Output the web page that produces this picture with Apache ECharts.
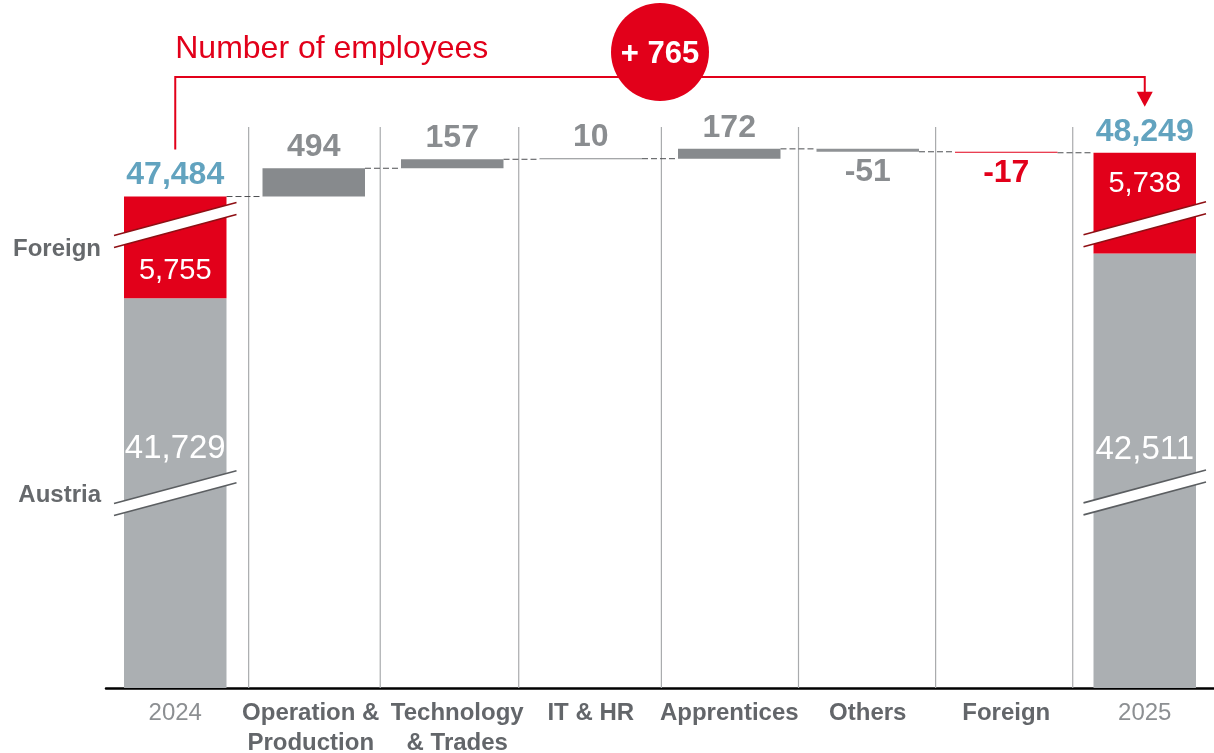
<!DOCTYPE html>
<html>
<head>
<meta charset="utf-8">
<script src="https://cdn.jsdelivr.net/npm/echarts@6/dist/echarts.min.js"></script>
<style>
html, body { margin: 0; padding: 0; background: #fff; }
#chart { width: 1214px; height: 753px; }
</style>
</head>
<body>
<div id="chart"></div>
<script>
// chart data
const categories = ['2024', 'Operation &\nProduction', 'Technology\n& Trades', 'IT & HR', 'Apprentices', 'Others', 'Foreign', '2025']
const austria = [41729, null, null, null, null, null, null, 42511]
const foreign = [5755, null, null, null, null, null, null, 5738]
const changes = [null, 494, 157, 10, 172, -51, -17, null]
const totalChange = 765
const rowLabels = ['Foreign', 'Austria']
// divider lines between the columns (in category units)
const separators = [1.03, 1.98, 2.98, 4.01, 5.0, 5.99, 6.98]

const RED = '#e2001a'
const FONT = "'Liberation Sans', Arial, sans-serif"
const fmt = v => v.toLocaleString('en-US')

// where the break slashes and inside labels sit, as share of each segment
const decor = [
  { fSlash: 0.28, aSlash: 0.50, fLabel: 0.72, aLabel: 0.385 },
  { fSlash: 0.71, aSlash: 0.55, fLabel: 0.30, aLabel: 0.45 }
]

// waterfall helpers
const totals = austria.map((a, i) => (a == null ? null : a + foreign[i]))
const base = categories.map(() => null)
const delta = categories.map(() => null)
const levels = [totals[0]]
let running = totals[0]
for (let i = 1; i < categories.length - 1; i++) {
  const next = running + changes[i]
  base[i] = Math.min(running, next)
  delta[i] = Math.abs(changes[i])
  running = next
  levels.push(running)
}

const labelStyle = { fontFamily: FONT, fontSize: 24, fontWeight: 'bold', color: '#63666a', lineHeight: 30 }

const myChart = echarts.init(document.getElementById('chart'))

const option = {
  animation: false,
  backgroundColor: '#fff',
  grid: { left: 106, right: 0, top: 100, bottom: 65, outerBoundsMode: 'none', containLabel: false },
  xAxis: [
    {
      type: 'category',
      data: categories,
      axisLine: { lineStyle: { color: '#000', width: 2.5 } },
      axisTick: { show: false },
      splitLine: { show: false },
      axisLabel: {
        interval: 0,
        margin: 10,
        formatter: (val) => {
          let tag = 'c'
          if (/^\d{4}$/.test(val)) tag = 'y'
          else if (val.startsWith('Operation')) tag = 'o'
          else if (val.startsWith('Technology')) tag = 't'
          return val.split('\n').map(l => '{' + tag + '|' + l + '}').join('\n')
        },
        rich: {
          y: { fontFamily: FONT, fontSize: 24, color: '#8c8f92', lineHeight: 30 },
          c: labelStyle,
          o: Object.assign({ padding: [0, 6, 0, 0] }, labelStyle),
          t: Object.assign({ padding: [0, 0, 0, 10] }, labelStyle)
        }
      }
    },
    { type: 'value', min: 0, max: 8, show: false }
  ],
  yAxis: {
    type: 'value',
    min: 0,
    max: 49171,
    breaks: [
      { start: 500, end: 41500, gap: '59.2%' },
      { start: 42600, end: 47400, gap: '8%' }
    ],
    breakArea: {
      show: false,
      itemStyle: { opacity: 0, borderWidth: 0, color: 'transparent', borderColor: 'transparent' }
    },
    axisLine: { show: false },
    axisTick: { show: false },
    axisLabel: { show: false },
    splitLine: { show: false }
  },
  series: [
    {
      name: 'separators',
      type: 'custom',
      xAxisIndex: 1,
      silent: true,
      data: separators.map(v => [v, 48700]),
      renderItem: (params, api) => {
        const top = api.coord([api.value(0), api.value(1)])
        const bot = api.coord([api.value(0), 0])
        return {
          type: 'line',
          shape: { x1: top[0], y1: top[1], x2: bot[0], y2: bot[1] },
          style: { stroke: '#a9abad', lineWidth: 1.2 }
        }
      }
    },
    {
      name: 'base',
      type: 'bar',
      stack: 'all',
      barWidth: '74%',
      silent: true,
      itemStyle: { color: 'transparent' },
      data: base
    },
    {
      name: 'Austria',
      type: 'bar',
      stack: 'all',
      barWidth: '74%',
      itemStyle: { color: '#abafb2' },
      data: austria
    },
    {
      name: 'Foreign',
      type: 'bar',
      stack: 'all',
      barWidth: '74%',
      itemStyle: { color: RED },
      label: {
        show: true,
        position: 'top',
        distance: 5,
        fontFamily: FONT,
        fontSize: 32,
        fontWeight: 'bold',
        color: '#62a3bf',
        formatter: p => fmt(totals[p.dataIndex])
      },
      data: foreign
    },
    {
      name: 'change',
      type: 'bar',
      stack: 'all',
      barWidth: '74%',
      barMinHeight: 1,
      data: delta.map((d, i) => {
        if (d == null) return null
        const neg = changes[i] < 0
        const isForeign = categories[i] === 'Foreign'
        return {
          value: d,
          itemStyle: { color: isForeign ? RED : (neg ? '#8f9295' : '#878a8d') },
          label: {
            show: true,
            position: neg ? 'bottom' : 'top',
            distance: neg ? 4 : 5,
            fontFamily: FONT,
            fontSize: 32,
            fontWeight: 'bold',
            color: isForeign ? RED : '#8a8d90',
            formatter: () => String(changes[i])
          }
        }
      })
    },
    {
      name: 'connectors',
      type: 'custom',
      silent: true,
      data: levels.map((lv, i) => [i, lv]),
      renderItem: (params, api) => {
        const i = api.value(0)
        const lv = api.value(1)
        const p1 = api.coord([i, lv])
        const p2 = api.coord([i + 1, lv])
        const half = api.size([1, 0])[0] * 0.74 / 2
        return {
          type: 'line',
          shape: { x1: p1[0] + half, y1: p1[1], x2: p2[0] - half, y2: p2[1] },
          style: { stroke: '#4d4f52', lineWidth: 1, lineDash: [6, 3] }
        }
      }
    },
    {
      name: 'totalsDecor',
      type: 'custom',
      silent: true,
      z: 5,
      data: [[0, austria[0], totals[0]], [7, austria[7], totals[7]]],
      renderItem: (params, api) => {
        const i = api.value(0)
        const aus = api.value(1)
        const tot = api.value(2)
        const spot = decor[params.dataIndex]
        const top = api.coord([i, tot])
        const mid = api.coord([i, aus])
        const bot = api.coord([i, 0])
        const cx = top[0]
        const barHalf = api.size([1, 0])[0] * 0.74 / 2
        const half = barHalf + 10
        const rise = half * 0.268
        const children = []
        const slash = (cy, lineColor) => {
          const l = cy + rise
          const r = cy - rise
          children.push({
            type: 'polygon',
            shape: { points: [[cx - half, l - 6], [cx + half, r - 6], [cx + half, r + 6], [cx - half, l + 6]] },
            style: { fill: '#fff' }
          })
          children.push({
            type: 'line',
            shape: { x1: cx - half, y1: l - 6, x2: cx + half, y2: r - 6 },
            style: { stroke: lineColor, lineWidth: 1.6 }
          })
          children.push({
            type: 'line',
            shape: { x1: cx - half, y1: l + 6, x2: cx + half, y2: r + 6 },
            style: { stroke: lineColor, lineWidth: 1.6 }
          })
        }
        slash(top[1] + spot.fSlash * (mid[1] - top[1]), '#8e0f14')
        slash(mid[1] + spot.aSlash * (bot[1] - mid[1]), '#5b5e61')
        const txt = (value, y, size) => ({
          type: 'text',
          x: cx,
          y: y,
          style: {
            text: fmt(value), fill: '#fff', fontFamily: FONT, fontSize: size,
            align: 'center', verticalAlign: 'middle'
          }
        })
        children.push(txt(tot - aus, top[1] + spot.fLabel * (mid[1] - top[1]) + 1, 29))
        children.push(txt(aus, mid[1] + spot.aLabel * (bot[1] - mid[1]) + 1, 33))
        if (params.dataIndex === 0) {
          const rows = [(top[1] + mid[1]) / 2, (mid[1] + bot[1]) / 2]
          rowLabels.forEach((name, k) => {
            children.push({
              type: 'text',
              x: cx - barHalf - 23,
              y: rows[k] + 2,
              style: {
                text: name, fill: '#66696c', fontFamily: FONT, fontSize: 24, fontWeight: 'bold',
                align: 'right', verticalAlign: 'middle'
              }
            })
          })
        }
        return { type: 'group', children: children }
      }
    }
  ]
}
option && myChart.setOption(option)

// bracket with the overall change, anchored on the two total bars
const p0 = myChart.convertToPixel({ xAxisIndex: 0, yAxisIndex: 0 }, [0, totals[0]])
const p7 = myChart.convertToPixel({ xAxisIndex: 0, yAxisIndex: 0 }, [7, totals[7]])
const lineY = 77
const midX = (p0[0] + p7[0]) / 2
myChart.setOption({
  graphic: [
    {
      type: 'text', left: p0[0], top: 33,
      style: { text: 'Number of employees', fill: RED, fontFamily: FONT, fontSize: 32 }
    },
    {
      type: 'polyline',
      shape: { points: [[p0[0], p0[1] - 47], [p0[0], lineY], [p7[0], lineY], [p7[0], p7[1] - 58]] },
      style: { stroke: RED, lineWidth: 2, fill: null }
    },
    {
      type: 'polygon',
      shape: { points: [[p7[0] - 8, p7[1] - 61], [p7[0] + 8, p7[1] - 61], [p7[0], p7[1] - 46]] },
      style: { fill: RED }
    },
    {
      type: 'circle',
      shape: { cx: midX, cy: 52, r: 49 },
      style: { fill: RED }
    },
    {
      type: 'text', x: midX, y: 54,
      style: {
        text: '+ 765', fill: '#fff', fontFamily: FONT, fontSize: 31, fontWeight: 'bold',
        align: 'center', verticalAlign: 'middle'
      }
    }
  ]
})
</script>
</body>
</html>
